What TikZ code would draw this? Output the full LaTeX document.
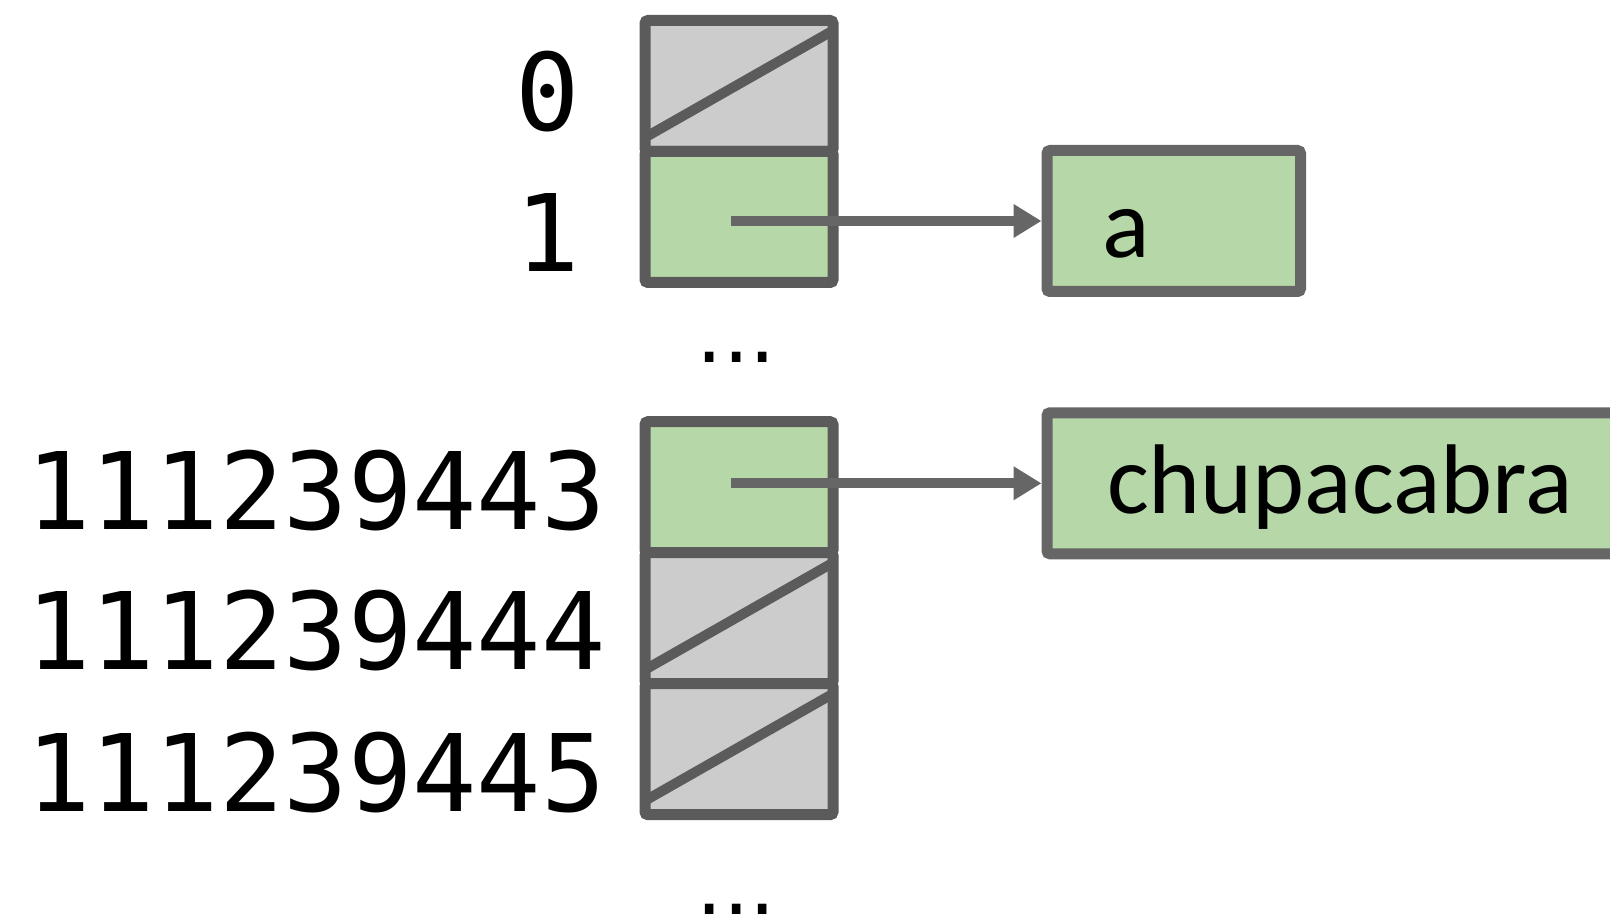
\documentclass[tikz,border=0pt]{standalone}
\usepackage{fontspec}
\setmainfont{Carlito}
\newfontfamily\idxfont{DejaVu Sans Mono}
\newfontfamily\dotfont{DejaVu Sans}
\usetikzlibrary{arrows.meta,calc}
\definecolor{edge}{HTML}{5B5B5B}
\definecolor{boxedge}{HTML}{666666}
\definecolor{emptyfill}{HTML}{CCCCCC}
\definecolor{usedfill}{HTML}{B6D7A8}

\begin{document}
\begin{tikzpicture}[x=1pt,y=-1pt,
  slot/.style={draw=edge, line width=11pt, minimum width=188pt, minimum height=131pt,
    inner sep=0pt, outer sep=0pt, rounded corners=3pt, anchor=north},
  emptyslot/.style={slot, fill=emptyfill},
  usedslot/.style={slot, fill=usedfill},
  strike/.style={draw=edge, line width=10pt},
  idx/.style={font=\idxfont\fontsize{107}{107}\selectfont, inner sep=0pt, anchor=base east},
  gap/.style={font=\dotfont\fontsize{83}{83}\selectfont, inner sep=0pt},
  valbox/.style={draw=boxedge, fill=usedfill, line width=11pt, rounded corners=3pt,
    inner ysep=0pt, align=left, font=\fontsize{99}{99}\selectfont},
  ptr/.style={draw=boxedge, line width=10pt, -{Triangle[length=28pt,width=32pt]}}
]
\useasboundingbox (0,0) rectangle (1610,917);

% array slots
\node[emptyslot] (c0) at (739,20.5) {};
\node[usedslot] (c1) at (c0.south) {};
\node[gap] (g1) at (736.5,357) {...};
\node[usedslot] (c3) at (739,421.7) {};
\node[emptyslot] (c4) at (c3.south) {};
\node[emptyslot] (c5) at (c4.south) {};
\node[gap] (g2) at (736.5,909) {...};

% empty slots are struck through
\foreach \c in {c0,c4,c5}
  \draw[strike] ($(\c.south west)+(0,-14)$) -- ($(\c.north east)+(0,10)$);

% indices
\node[idx] (l0) at (580,131) {0};
\node[idx] (l1) at (580,272) {1};
\node[idx] (l3) at (606,529) {111239443};
\node[idx] (l4) at (606,669.5) {111239444};
\node[idx] (l5) at (606,811) {111239445};

% stored values
\node[valbox, inner xsep=55pt, minimum width=253.5pt, minimum height=141pt, text width=143.5pt,
      text height=74pt, text depth=0pt] (va) at (1173.75,221) {a};
\node[valbox, inner xsep=60pt, minimum width=620pt, minimum height=141pt, text width=500pt,
      text height=77pt, text depth=16pt] (vb) at (1357,483.3) {chupacabra};

% pointers
\draw[ptr] ($(c1.center |- va.west)+(-8.3,0)$) -- (va.west);
\draw[ptr] ($(c3.center |- vb.west)+(-8.3,0)$) -- (vb.west);
\end{tikzpicture}
\end{document}
